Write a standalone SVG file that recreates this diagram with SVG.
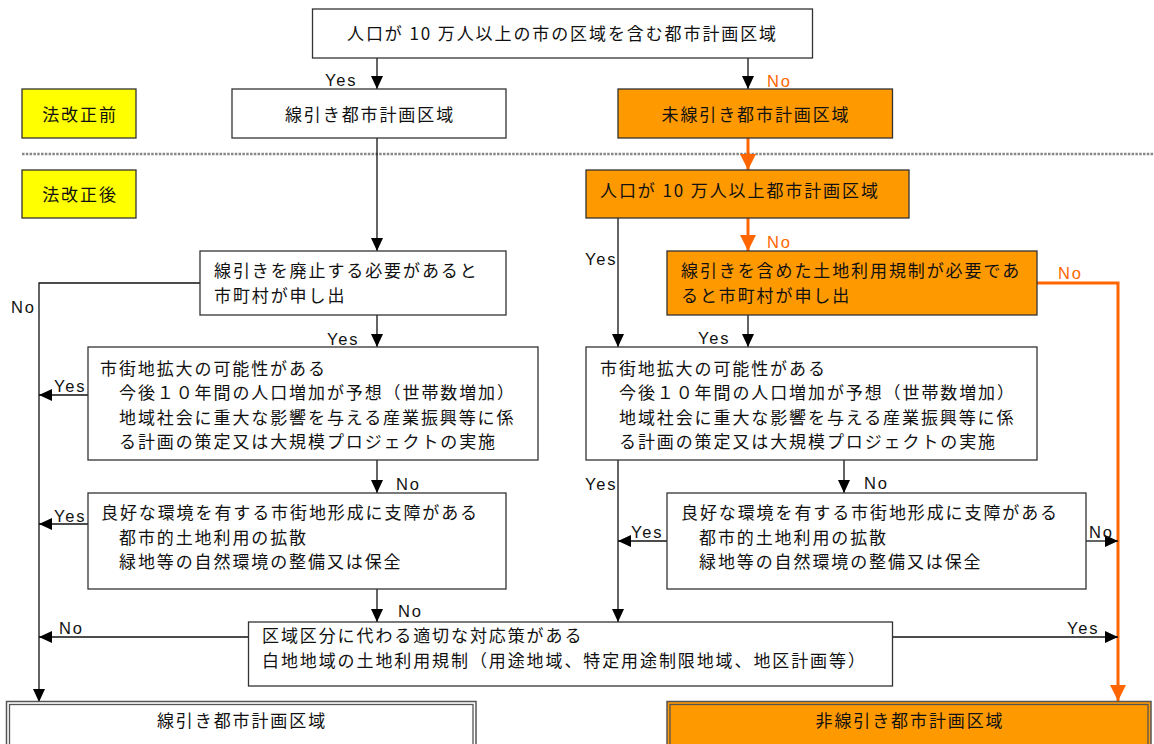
<svg xmlns="http://www.w3.org/2000/svg" width="1154" height="744" viewBox="0 0 1154 744">
<style>
.box{fill:#fff;stroke:#333;stroke-width:1.3}
.org{fill:#FF9900;stroke:#333;stroke-width:1.3}
.yel{fill:#FFFF00;stroke:#333;stroke-width:1.3}
.dbl{fill:none;stroke:#555;stroke-width:1.3}
.jp{font-family:"Noto Sans CJK JP","Noto Sans CJK SC",sans-serif;font-size:17px;letter-spacing:1.9px;fill:#111}
.mid{text-anchor:middle}
.lbl{font-family:"Liberation Sans",Arial,sans-serif;font-size:16.5px;letter-spacing:1.8px;fill:#111}
.lo{fill:#FF6600}
.ln{fill:none;stroke:#111;stroke-width:1.3}
.lno{fill:none;stroke:#FF6600;stroke-width:3}
</style>
<defs>
<marker id="ab" markerUnits="userSpaceOnUse" markerWidth="13" markerHeight="12" refX="13" refY="6" orient="auto">
<path d="M0,0 L13,6 L0,12 z" fill="#000"/>
</marker>
<marker id="ao" markerUnits="userSpaceOnUse" markerWidth="16" markerHeight="16" refX="16" refY="8" orient="auto">
<path d="M0,0 L16,8 L0,16 z" fill="#FF6600"/>
</marker>
</defs>
<rect width="1154" height="744" fill="#fff"/>
<line x1="22" y1="154" x2="1154" y2="154" stroke="#888" stroke-width="2.5" stroke-dasharray="2.5 1.3"/>

<g id="connectors">
<path class="ln" d="M377,58 V89" marker-end="url(#ab)"/>
<path class="ln" d="M748,58 V89" marker-end="url(#ab)"/>
<path class="ln" d="M377,138 V251" marker-end="url(#ab)"/>
<path class="lno" d="M748,138 V170" marker-end="url(#ao)"/>
<path class="lno" d="M748,218 V251" marker-end="url(#ao)"/>
<path class="ln" d="M618,218 V347" marker-end="url(#ab)"/>
<path class="ln" d="M200,283 H39 V702" marker-end="url(#ab)"/>
<path class="ln" d="M377,315 V347" marker-end="url(#ab)"/>
<path class="ln" d="M748,315 V347" marker-end="url(#ab)"/>
<path class="lno" d="M1037,283 H1118 V701" marker-end="url(#ao)"/>
<path class="ln" d="M88,395 H39" marker-end="url(#ab)"/>
<path class="ln" d="M377,460 V493" marker-end="url(#ab)"/>
<path class="ln" d="M844,460 V493" marker-end="url(#ab)"/>
<path class="ln" d="M618,460 V622" marker-end="url(#ab)"/>
<path class="ln" d="M88,524 H39" marker-end="url(#ab)"/>
<path class="ln" d="M377,589 V622" marker-end="url(#ab)"/>
<path class="ln" d="M667,541 H618" marker-end="url(#ab)"/>
<path class="ln" d="M1086,541 H1118" marker-end="url(#ab)"/>
<path class="ln" d="M248.5,637 H39" marker-end="url(#ab)"/>
<path class="ln" d="M892.5,637 H1118" marker-end="url(#ab)"/>
<text class="lbl" x="325" y="86">Yes</text>
<text class="lbl lo" x="767" y="87">No</text>
<text class="lbl lo" x="767" y="248">No</text>
<text class="lbl" x="585" y="265">Yes</text>
<text class="lbl" x="11" y="313">No</text>
<text class="lbl" x="327" y="345">Yes</text>
<text class="lbl lo" x="1058" y="279">No</text>
<text class="lbl" x="698" y="343.5">Yes</text>
<text class="lbl" x="54" y="392">Yes</text>
<text class="lbl" x="396" y="490">No</text>
<text class="lbl" x="864" y="489">No</text>
<text class="lbl" x="585" y="490">Yes</text>
<text class="lbl" x="54" y="522">Yes</text>
<text class="lbl" x="631" y="538">Yes</text>
<text class="lbl" x="1089" y="538">No</text>
<text class="lbl" x="398" y="617">No</text>
<text class="lbl" x="59" y="634">No</text>
<text class="lbl" x="1067" y="634">Yes</text>
</g>

<g id="n_top">
<rect class="box" x="312.5" y="9" width="500" height="49"/>
<text class="jp mid" x="562.5" y="39.5">人口が 10 万人以上の市の区域を含む都市計画区域</text>
</g>
<g id="n_before">
<rect class="yel" x="22" y="89" width="114" height="49"/>
<text class="jp mid" x="80" y="120.5">法改正前</text>
</g>
<g id="n_after">
<rect class="yel" x="22" y="170" width="114" height="48"/>
<text class="jp mid" x="80" y="200.5">法改正後</text>
</g>
<g id="n_senbiki">
<rect class="box" x="232" y="89" width="274" height="49"/>
<text class="jp mid" x="370" y="120.5">線引き都市計画区域</text>
</g>
<g id="n_misenbiki">
<rect class="org" x="618" y="89" width="274.5" height="49"/>
<text class="jp mid" x="756" y="120.5">未線引き都市計画区域</text>
</g>
<g id="n_jinko">
<rect class="org" x="586" y="170" width="323" height="48"/>
<text class="jp" x="600" y="197">人口が 10 万人以上都市計画区域</text>
</g>
<g id="n_haishi">
<rect class="box" x="200" y="251" width="306" height="64"/>
<text class="jp" x="214" y="277">線引きを廃止する必要があると</text>
<text class="jp" x="214" y="302">市町村が申し出</text>
</g>
<g id="n_fukumeta">
<rect class="org" x="667" y="251" width="370" height="64"/>
<text class="jp" x="681" y="277">線引きを含めた土地利用規制が必要であ</text>
<text class="jp" x="681" y="302">ると市町村が申し出</text>
</g>
<g id="n_shigai_l">
<rect class="box" x="88" y="347" width="450" height="113"/>
<text class="jp" x="100" y="374.5">市街地拡大の可能性がある</text>
<text class="jp" x="119" y="399">今後１０年間の人口増加が予想（世帯数増加）</text>
<text class="jp" x="119" y="423.5">地域社会に重大な影響を与える産業振興等に係</text>
<text class="jp" x="119" y="448">る計画の策定又は大規模プロジェクトの実施</text>
</g>
<g id="n_shigai_r">
<rect class="box" x="586" y="347" width="451" height="113"/>
<text class="jp" x="600" y="374.5">市街地拡大の可能性がある</text>
<text class="jp" x="619" y="399">今後１０年間の人口増加が予想（世帯数増加）</text>
<text class="jp" x="619" y="423.5">地域社会に重大な影響を与える産業振興等に係</text>
<text class="jp" x="619" y="448">る計画の策定又は大規模プロジェクトの実施</text>
</g>
<g id="n_ryoko_l">
<rect class="box" x="88" y="493" width="418" height="96"/>
<text class="jp" x="101" y="518.5">良好な環境を有する市街地形成に支障がある</text>
<text class="jp" x="119" y="543.5">都市的土地利用の拡散</text>
<text class="jp" x="119" y="568">緑地等の自然環境の整備又は保全</text>
</g>
<g id="n_ryoko_r">
<rect class="box" x="667" y="493" width="419" height="96"/>
<text class="jp" x="681" y="518.5">良好な環境を有する市街地形成に支障がある</text>
<text class="jp" x="699" y="543.5">都市的土地利用の拡散</text>
<text class="jp" x="699" y="568">緑地等の自然環境の整備又は保全</text>
</g>
<g id="n_kuiki">
<rect class="box" x="248.5" y="622" width="644" height="64"/>
<text class="jp" x="262" y="641.5">区域区分に代わる適切な対応策がある</text>
<text class="jp" x="262" y="666.5">白地地域の土地利用規制（用途地域、特定用途制限地域、地区計画等）</text>
</g>
<g id="n_final_l">
<rect x="6.5" y="701.5" width="469.5" height="60" fill="#fff" stroke="#555" stroke-width="1.5"/>
<rect class="dbl" x="9.5" y="704.5" width="463.5" height="60"/>
<text class="jp mid" x="242" y="726.5">線引き都市計画区域</text>
</g>
<g id="n_final_r">
<rect x="667" y="701.5" width="484" height="60" fill="#FF9900" stroke="#555" stroke-width="1.5"/>
<rect class="dbl" x="670" y="704.5" width="478" height="60"/>
<text class="jp mid" x="910" y="726.5">非線引き都市計画区域</text>
</g>
</svg>
